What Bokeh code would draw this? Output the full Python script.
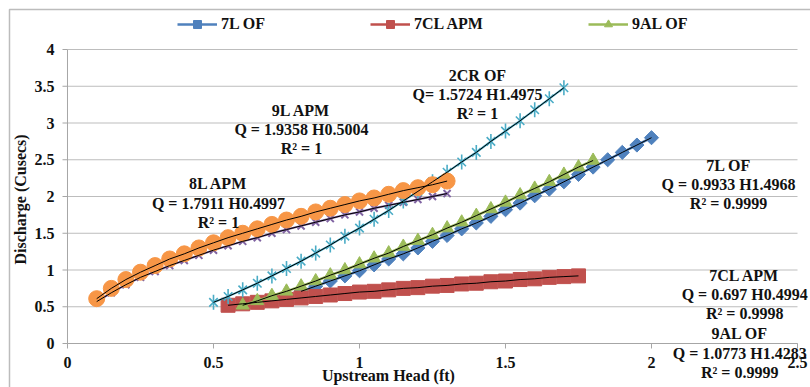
from math import pi
from bokeh.plotting import figure
from bokeh.models import Range1d, Legend, LegendItem, Label, BoxAnnotation
from bokeh.core.properties import value
from bokeh.embed import file_html
from bokeh.resources import INLINE

# ---------------- data ----------------
h_7l_of = [0.80, 0.85, 0.90, 0.95, 1.00, 1.05, 1.10, 1.15, 1.20, 1.25, 1.30, 1.35, 1.40,
           1.45, 1.50, 1.55, 1.60, 1.65, 1.70, 1.75, 1.80, 1.85, 1.90, 1.95, 2.00]
q_7l_of = [0.71, 0.78, 0.85, 0.92, 0.99, 1.07, 1.15, 1.22, 1.30, 1.39, 1.47, 1.56, 1.64,
           1.73, 1.82, 1.91, 2.01, 2.10, 2.20, 2.30, 2.40, 2.50, 2.60, 2.70, 2.80]

h_7cl_apm = [0.55, 0.60, 0.65, 0.70, 0.75, 0.80, 0.85, 0.90, 0.95, 1.00, 1.05, 1.10, 1.15,
             1.20, 1.25, 1.30, 1.35, 1.40, 1.45, 1.50, 1.55, 1.60, 1.65, 1.70, 1.75]
q_7cl_apm = [0.52, 0.54, 0.56, 0.58, 0.60, 0.62, 0.64, 0.66, 0.68, 0.70, 0.71, 0.73, 0.75,
             0.76, 0.78, 0.79, 0.81, 0.82, 0.84, 0.85, 0.87, 0.88, 0.90, 0.91, 0.92]

h_9al_of = [0.60, 0.65, 0.70, 0.75, 0.80, 0.85, 0.90, 0.95, 1.00, 1.05, 1.10, 1.15, 1.20,
            1.25, 1.30, 1.35, 1.40, 1.45, 1.50, 1.55, 1.60, 1.65, 1.70, 1.75, 1.80]
q_9al_of = [0.52, 0.58, 0.65, 0.71, 0.78, 0.85, 0.93, 1.00, 1.08, 1.16, 1.23, 1.32, 1.40,
            1.48, 1.57, 1.65, 1.74, 1.83, 1.92, 2.02, 2.11, 2.20, 2.30, 2.40, 2.49]

h_8l_apm = [0.10, 0.15, 0.20, 0.25, 0.30, 0.35, 0.40, 0.45, 0.50, 0.55, 0.60, 0.65, 0.70,
            0.75, 0.80, 0.85, 0.90, 0.95, 1.00, 1.05, 1.10, 1.15, 1.20, 1.25, 1.30]
q_8l_apm = [0.57, 0.69, 0.80, 0.90, 0.98, 1.06, 1.13, 1.20, 1.27, 1.33, 1.39, 1.44, 1.50,
            1.55, 1.60, 1.65, 1.70, 1.75, 1.79, 1.84, 1.88, 1.92, 1.96, 2.00, 2.04]

h_2cr_of = [0.50, 0.55, 0.60, 0.65, 0.70, 0.75, 0.80, 0.85, 0.90, 0.95, 1.00, 1.05, 1.10,
            1.15, 1.20, 1.25, 1.30, 1.35, 1.40, 1.45, 1.50, 1.55, 1.60, 1.65, 1.70]
q_2cr_of = [0.56, 0.64, 0.73, 0.82, 0.92, 1.02, 1.12, 1.23, 1.34, 1.46, 1.57, 1.69, 1.81,
            1.94, 2.07, 2.20, 2.33, 2.47, 2.60, 2.75, 2.89, 3.03, 3.18, 3.33, 3.48]

h_9l_apm = [0.10, 0.15, 0.20, 0.25, 0.30, 0.35, 0.40, 0.45, 0.50, 0.55, 0.60, 0.65, 0.70,
            0.75, 0.80, 0.85, 0.90, 0.95, 1.00, 1.05, 1.10, 1.15, 1.20, 1.25, 1.30]
q_9l_apm = [0.61, 0.75, 0.87, 0.97, 1.06, 1.15, 1.22, 1.30, 1.37, 1.44, 1.50, 1.56, 1.62,
            1.68, 1.73, 1.79, 1.84, 1.89, 1.94, 1.98, 2.03, 2.08, 2.12, 2.16, 2.21]

x_ticks = [0, 0.5, 1, 1.5, 2, 2.5]
x_tick_labels = ["0", "0.5", "1", "1.5", "2", "2.5"]
y_ticks = [0, 0.5, 1, 1.5, 2, 2.5, 3, 3.5, 4]
y_tick_labels = ["0", "0.5", "1", "1.5", "2", "2.5", "3", "3.5", "4"]

legend_names = ["7L OF", "7CL APM", "9AL OF"]

eq_9l = ["9L APM", "Q = 1.9358 H0.5004", "R\u00b2 = 1"]
eq_8l = ["8L APM", "Q = 1.7911 H0.4997", "R\u00b2 = 1"]
eq_2cr = ["2CR OF", "Q= 1.5724 H1.4975", "R\u00b2 = 1"]
eq_7l = ["7L OF", "Q = 0.9933 H1.4968", "R\u00b2 = 0.9999"]
eq_7cl = ["7CL APM", "Q = 0.697 H0.4994", "R\u00b2 = 0.9998"]
eq_9al = ["9AL OF", "Q = 1.0773 H1.4283", "R\u00b2 = 0.9999"]

x_title = "Upstream Head (ft)"
y_title = "Discharge (Cusecs)"

# ---------------- styling ----------------
FONT = "Liberation Serif"
TXT = "#111111"
BLUE, RED, GREEN = "#4F81BD", "#C0504D", "#9BBB59"
PURPLE, AQUA, ORANGE = "#8064A2", "#4BACC6", "#F79646"
GRID = "#BDBDBD"
AXIS = "#A6A6A6"

W, H = 810, 387
# the frame fills the canvas; the data box (0..2.5, 0..4) is placed inside it
# (292 px per ft, 73.5 px per cusec), and the axes are drawn from the tick lists.
p = figure(width=W, height=H,
           x_range=Range1d(-0.22945, 2.54452), y_range=Range1d(-0.59864, 4.66667),
           output_backend="svg", toolbar_location=None,
           x_axis_location=None, y_axis_location=None,
           min_border_left=0, min_border_right=0,
           min_border_top=0, min_border_bottom=0)
p.outline_line_color = None
p.background_fill_color = "white"
p.border_fill_color = "white"
p.xgrid.visible = False
p.ygrid.visible = False

# chart-area border (left and top edges visible)
p.add_layout(BoxAnnotation(left=-0.19863, right=3.0, top=4.5442, bottom=-2.0,
                           fill_alpha=0, line_color="#222222", line_width=1.5))

# horizontal gridlines
p.segment(x0=x_ticks[0], x1=x_ticks[-1], y0=y_ticks, y1=y_ticks,
          line_color=GRID, line_width=1)

# y axis
p.segment(x0=x_ticks[0], x1=x_ticks[0], y0=y_ticks[0], y1=y_ticks[-1],
          line_color=AXIS, line_width=1)
p.segment(x0=x_ticks[0], x1=x_ticks[0] - 0.0171, y0=y_ticks, y1=y_ticks,
          line_color=AXIS, line_width=1)
p.text(x=x_ticks[0], y=y_ticks, text=y_tick_labels, x_offset=-13,
       text_align="right", text_baseline="middle",
       text_font=value(FONT), text_font_style=value("bold"),
       text_font_size=value("16px"), text_color=TXT)

# x axis
p.segment(x0=x_ticks[0], x1=x_ticks[-1], y0=y_ticks[0], y1=y_ticks[0],
          line_color=AXIS, line_width=1)
p.segment(x0=x_ticks, x1=x_ticks, y0=y_ticks[0], y1=y_ticks[0] - 0.068,
          line_color=AXIS, line_width=1)
p.text(x=x_ticks, y=y_ticks[0], text=x_tick_labels, y_offset=19,
       text_align="center", text_baseline="middle",
       text_font=value(FONT), text_font_style=value("bold"),
       text_font_size=value("16px"), text_color=TXT)

# ---------------- series ----------------
l_7l = p.line(h_7l_of, q_7l_of, line_color=BLUE, line_width=2.5)
m_7l = p.scatter(h_7l_of, q_7l_of, marker="square", angle=pi / 4, size=10,
                 fill_color=BLUE, line_color=BLUE)

l_7cl = p.line(h_7cl_apm, q_7cl_apm, line_color=RED, line_width=2.5)
m_7cl = p.scatter(h_7cl_apm, q_7cl_apm, marker="square", size=14,
                  fill_color=RED, line_color=RED)

l_9al = p.line(h_9al_of, q_9al_of, line_color=GREEN, line_width=2.5)
m_9al = p.scatter(h_9al_of, q_9al_of, marker="triangle", size=13,
                  fill_color=GREEN, line_color=GREEN)

p.line(h_8l_apm, q_8l_apm, line_color=PURPLE, line_width=2)
p.scatter(h_8l_apm, q_8l_apm, marker="x", size=10, line_color=PURPLE, line_width=2)

p.line(h_2cr_of, q_2cr_of, line_color=AQUA, line_width=2)
p.scatter(h_2cr_of, q_2cr_of, marker="x", size=12, line_color=AQUA, line_width=1.6)
p.scatter(h_2cr_of, q_2cr_of, marker="dash", angle=pi / 2, size=15,
          line_color=AQUA, line_width=1.6)

p.line(h_9l_apm, q_9l_apm, line_color=ORANGE, line_width=2)
p.scatter(h_9l_apm, q_9l_apm, marker="circle", size=16,
          fill_color=ORANGE, line_color=ORANGE)

# trendlines (black, thin)
for hs, qs in [(h_7l_of, q_7l_of), (h_7cl_apm, q_7cl_apm), (h_9al_of, q_9al_of),
               (h_8l_apm, q_8l_apm), (h_2cr_of, q_2cr_of), (h_9l_apm, q_9l_apm)]:
    p.line(hs, qs, line_color="black", line_width=1)

# ---------------- legend ----------------
legend = Legend(items=[LegendItem(label=legend_names[0], renderers=[l_7l, m_7l]),
                       LegendItem(label=legend_names[1], renderers=[l_7cl, m_7cl]),
                       LegendItem(label=legend_names[2], renderers=[l_9al, m_9al])],
                location=(167, H - 44), orientation="horizontal",
                glyph_width=40, glyph_height=20, label_standoff=4, spacing=105,
                padding=10, margin=0,
                border_line_alpha=0, background_fill_alpha=0,
                label_text_font=FONT, label_text_font_style="bold",
                label_text_font_size="16px", label_text_color=TXT)
p.add_layout(legend, "center")

# ---------------- equation labels & titles ----------------
blocks = [(eq_9l, 0.801, [3.170, 2.912, 2.653]),
          (eq_8l, 0.517, [2.177, 1.905, 1.646]),
          (eq_2cr, 1.404, [3.646, 3.388, 3.129]),
          (eq_7l, 2.264, [2.422, 2.163, 1.905]),
          (eq_7cl, 2.319, [0.925, 0.667, 0.408]),
          (eq_9al, 2.302, [0.136, -0.136, -0.395])]
for texts, bx, ys in blocks:
    for t, by in zip(texts, ys):
        p.add_layout(Label(x=bx, y=by, text=t, text_align="center", text_baseline="middle",
                           text_font=FONT, text_font_style="bold", text_font_size="16px",
                           text_color=TXT))

p.add_layout(Label(x=1.099, y=-0.435, text=x_title, text_align="center", text_baseline="middle",
                   text_font=FONT, text_font_style="bold", text_font_size="16px",
                   text_color=TXT))
p.add_layout(Label(x=-0.161, y=1.96, text=y_title, angle=pi / 2,
                   text_align="center", text_baseline="middle",
                   text_font=FONT, text_font_style="bold", text_font_size="16px",
                   text_color=TXT))

open("out.html", "w").write(file_html(p, INLINE))
